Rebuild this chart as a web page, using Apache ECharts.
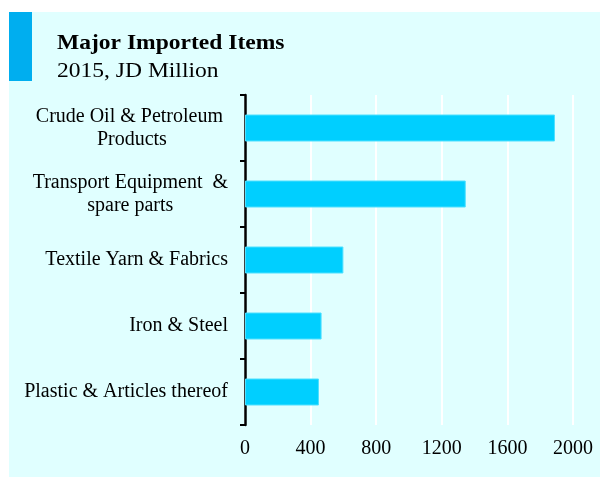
<!DOCTYPE html>
<html>
<head>
<meta charset="utf-8">
<script src="https://cdn.jsdelivr.net/npm/echarts@6/dist/echarts.min.js"></script>
<style>
  html, body { margin: 0; padding: 0; background: #ffffff; }
  #chart { width: 600px; height: 477px; }
</style>
</head>
<body>
<div id="chart"></div>
<script>
// Major imported items, 2015 (JD million)
var categories = [
  'Crude Oil & Petroleum \nProducts',
  'Transport Equipment  &\nspare parts',
  'Textile Yarn & Fabrics',
  'Iron & Steel',
  'Plastic & Articles thereof'
];
var importValues = [1890, 1346, 600, 467, 451];
var xTicks = [0, 400, 800, 1200, 1600, 2000];

var serif = '"Liberation Serif", "Times New Roman", serif';
var chart = echarts.init(document.getElementById('chart'));

chart.setOption({
  animation: false,
  backgroundColor: '#ffffff',
  graphic: [
    { type: 'rect', left: 9, top: 12, z: -10, silent: true,
      shape: { width: 591, height: 465 }, style: { fill: '#E0FFFF' } },
    { type: 'rect', left: 9, top: 12, z: -9, silent: true,
      shape: { width: 23, height: 69 }, style: { fill: '#00AEEF' } },
    { type: 'text', x: 57, y: 32, scaleX: 1.07, silent: true,
      style: { text: 'Major Imported Items', fill: '#000', font: 'bold 22px ' + serif } },
    { type: 'text', x: 57, y: 60, scaleX: 1.07, silent: true,
      style: { text: '2015, JD Million', fill: '#000', font: '22px ' + serif } }
  ],
  grid: { left: 245, right: 27, top: 95, bottom: 52, containLabel: false },
  xAxis: {
    type: 'value',
    min: xTicks[0],
    max: xTicks[xTicks.length - 1],
    interval: 400,
    axisLine: { show: false },
    axisTick: { show: false },
    splitLine: { show: true, lineStyle: { color: '#ffffff', width: 2 } },
    axisLabel: {
      margin: 14,
      color: '#000',
      fontFamily: serif,
      fontSize: 20,
      formatter: function (v) { return String(v); }
    }
  },
  yAxis: {
    type: 'category',
    data: categories,
    inverse: true,
    axisLine: { show: true, lineStyle: { color: '#000', width: 2.5 } },
    axisTick: { show: true, length: 5, lineStyle: { color: '#000', width: 2 } },
    splitLine: { show: false },
    axisLabel: {
      margin: 17,
      color: '#000',
      fontFamily: serif,
      fontSize: 20,
      lineHeight: 23,
      formatter: function (v) { return '{c|' + v.split('\n').join('}\n{c|') + '}'; },
      rich: { c: { align: 'center', fontFamily: serif, fontSize: 20, color: '#000', lineHeight: 23 } }
    }
  },
  series: [{
    type: 'bar',
    data: importValues,
    barWidth: 27,
    itemStyle: { color: '#00CFFF', borderColor: '#4FE0FF', borderWidth: 1 }
  }]
});
</script>
</body>
</html>
